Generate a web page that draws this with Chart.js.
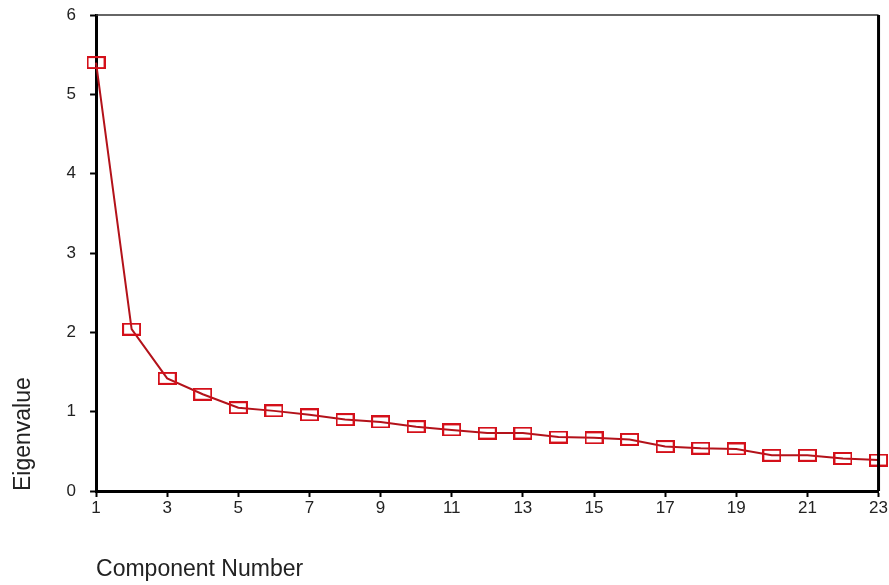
<!DOCTYPE html>
<html>
<head>
<meta charset="utf-8">
<script src="https://cdn.jsdelivr.net/npm/chart.js@4"></script>
<style>
  html, body { margin: 0; padding: 0; background: #fff; }
  #wrap { width: 889px; height: 585px; }
</style>
</head>
<body>
<div id="wrap"><canvas id="scree"></canvas></div>
<script>
// scree plot data
var components = [1, 2, 3, 4, 5, 6, 7, 8, 9, 10, 11, 12, 13, 14, 15, 16, 17, 18, 19, 20, 21, 22, 23];
var eigenvalues = [5.40, 2.04, 1.42, 1.22, 1.05, 1.01, 0.96, 0.90, 0.87, 0.81, 0.77, 0.73, 0.73,
                   0.68, 0.67, 0.65, 0.56, 0.54, 0.53, 0.45, 0.45, 0.41, 0.39];
var xTicks = [1, 3, 5, 7, 9, 11, 13, 15, 17, 19, 21, 23];
var yTicks = [0, 1, 2, 3, 4, 5, 6];

var points = components.map(function (c, i) { return { x: c, y: eigenvalues[i] }; });

// hollow rectangle marker, a bit wider than tall
var marker = document.createElement('canvas');
marker.width = 19;
marker.height = 13;
var mctx = marker.getContext('2d');
mctx.strokeStyle = '#d4101a';
mctx.lineWidth = 2;
mctx.strokeRect(1, 1, 17, 11);

// thin top and thick right frame lines
var frame = {
    id: 'frame',
    afterDraw: function (chart) {
        var a = chart.chartArea, c = chart.ctx;
        c.save();
        c.strokeStyle = '#333';
        c.lineWidth = 1.5;
        c.beginPath();
        c.moveTo(a.left, a.top);
        c.lineTo(a.right, a.top);
        c.stroke();
        c.strokeStyle = '#000';
        c.lineWidth = 3;
        c.beginPath();
        c.moveTo(a.right, a.top);
        c.lineTo(a.right, a.bottom);
        c.stroke();
        c.restore();
    }
};

var ctx = document.getElementById('scree').getContext('2d');
var chart = new Chart(ctx, {
    type: 'line',
    data: {
        datasets: [{
            data: points,
            borderColor: '#b3121a',
            borderWidth: 2,
            pointStyle: marker,
            pointRadius: 8,
            fill: false,
            tension: 0,
            clip: false
        }]
    },
    options: {
        responsive: true,
        maintainAspectRatio: false,
        animation: false,
        layout: { autoPadding: false, padding: { top: 15, right: 4, left: 10, bottom: 0 } },
        plugins: { legend: { display: false }, tooltip: { enabled: false } },
        scales: {
            x: {
                type: 'linear',
                min: 1,
                max: 23,
                afterBuildTicks: function (s) { s.ticks = xTicks.map(function (v) { return { value: v }; }); },
                ticks: { color: '#222', font: { family: 'Liberation Sans, Arial', size: 17 }, padding: 1 },
                grid: { drawOnChartArea: false, tickLength: 6, tickColor: '#000', tickWidth: 2 },
                border: { color: '#000', width: 3 },
                title: {
                    display: true,
                    text: 'Component Number',
                    align: 'start',
                    color: '#222',
                    font: { family: 'Liberation Sans, Arial', size: 23 },
                    padding: { top: 36, bottom: 2 }
                }
            },
            y: {
                min: 0,
                max: 6,
                afterBuildTicks: function (s) { s.ticks = yTicks.map(function (v) { return { value: v }; }); },
                afterFit: function (s) { s.paddingTop = 0; s.paddingBottom = 0; },
                ticks: { color: '#222', font: { family: 'Liberation Sans, Arial', size: 17 }, padding: 14 },
                grid: { drawOnChartArea: false, tickLength: 6, tickColor: '#000', tickWidth: 2 },
                border: { color: '#000', width: 3 },
                title: {
                    display: true,
                    text: 'Eigenvalue',
                    align: 'start',
                    color: '#222',
                    font: { family: 'Liberation Sans, Arial', size: 23 },
                    padding: { top: 0, bottom: 15 }
                }
            }
        }
    },
    plugins: [frame]
});
</script>
</body>
</html>
